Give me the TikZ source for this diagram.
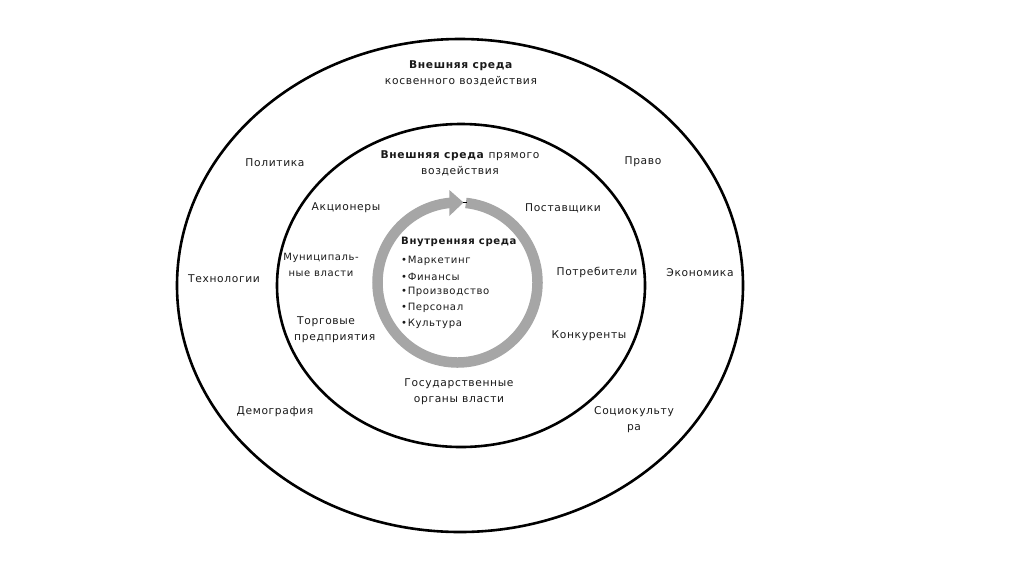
\documentclass[tikz,border=0pt]{standalone}
\usepackage{fontspec}
\setmainfont{DejaVu Sans}[LetterSpace=6]
\begin{document}
\begin{tikzpicture}[x=1pt,y=1pt,
  lbl/.style={font=\fontsize{10.7}{16}\selectfont, align=center, inner sep=0pt, text=black!90},
  lbll/.style={lbl, font=\fontsize{10.1}{16}\selectfont, align=left, anchor=west},
  ring/.style={draw=black, line width=2.6pt},
  cyc/.style={draw=black!35, line width=10.5pt}]
\useasboundingbox (0,0) rectangle (1024,-574);
% ellipses
\draw[ring] (460,-285.5) ellipse [x radius=283, y radius=246.5];
\draw[ring] (461,-285.5) ellipse [x radius=184, y radius=161.5];
% cycle arrow
\coordinate (cc) at (457.5,-282.5);
\draw[cyc] (cc) ++(84:80) arc[start angle=84, end angle=-265, radius=80];
\fill[black!35] (cc) ++(97:67) -- ++(0,26) -- (463.5,-202.5) -- cycle;
\draw[black, line width=1.3pt] (462.5,-202.8) -- (466.5,-202.8);
% outer texts
\node[lbl] (t1) at (461,-73) {\textbf{Внешняя среда}\\косвенного воздействия};
\node[lbl] (t2) at (275,-163) {Политика};
\node[lbl] (t3) at (643,-162) {Право};
\node[lbl] (t4) at (224,-279) {Технологии};
\node[lbl] (t5) at (700,-273) {Экономика};
\node[lbl] (t6) at (275,-412) {Демография};
\node[lbl] (t7) at (634,-420) {Социокульту\\ра};
% middle texts
\node[lbl] (m1) at (460,-163.5) {\textbf{Внешняя среда} прямого\\воздействия};
\node[lbl] (m2) at (346,-208) {Акционеры};
\node[lbl] (m3) at (563,-208) {Поставщики};
\node[lbl, font=\fontsize{10}{16}\selectfont] (m4) at (321,-265) {Муниципаль-\\ные власти};
\node[lbl] (m5) at (597,-272) {Потребители};
\node[lbl] (m6) at (294,-330) [anchor=west, align=left] {\hspace*{3pt}Торговые\\предприятия};
\node[lbl] (m7) at (589,-336) {Конкуренты};
\node[lbl] (m8) at (459,-392) {Государственные\\органы власти};
% inner texts
\node[lbll] (i0) at (401,-242) {\textbf{Внутренняя среда}};
\node[lbll] (i1) at (401,-261) {•Маркетинг};
\node[lbll] (i2) at (401,-277) {•Финансы};
\node[lbll] (i3) at (401,-292) {•Производство};
\node[lbll] (i4) at (401,-308) {•Персонал};
\node[lbll] (i5) at (401,-324) {•Культура};
\end{tikzpicture}
\end{document}
